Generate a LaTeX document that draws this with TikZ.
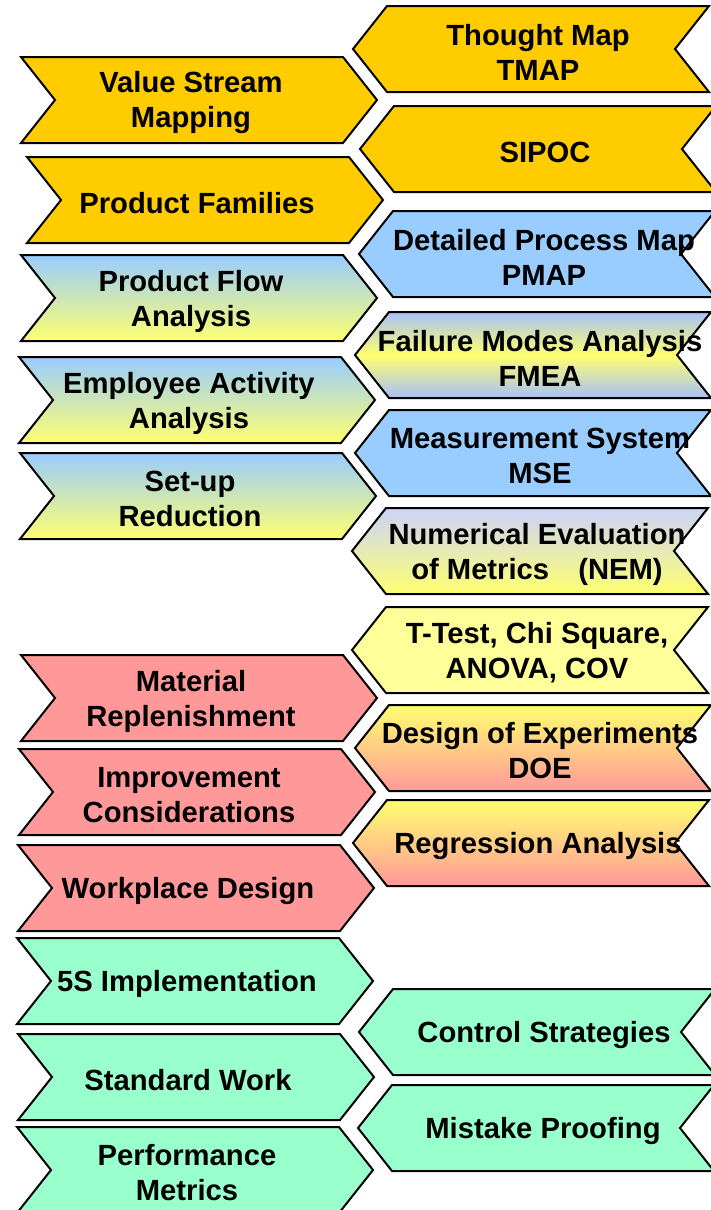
\documentclass[tikz,border=0pt]{standalone}
\usepackage{fontspec}
\setmainfont{Liberation Sans}
\usepackage{xcolor}
\definecolor{toolgold}{HTML}{FFCC00}
\definecolor{toolblue}{HTML}{99CCFF}
\definecolor{toolyellow}{HTML}{FFFF99}
\definecolor{brightyellow}{HTML}{FFFF70}
\definecolor{lavender}{RGB}{168,192,248}
\definecolor{palelavender}{RGB}{204,212,250}
\definecolor{toolpink}{HTML}{FF9999}
\definecolor{toolmint}{HTML}{99FFCC}

% chevron pointing right (left column): name, left x, top y, fill, text
\newcommand{\chevright}[5]{%
  \draw[chev, #4] (#2,#3) -- ++(322,0) -- ++(34,43) -- ++(-34,43) -- ++(-322,0) -- ++(34,-43) -- cycle;
  \node[lbl] (#1) at (#2+170,#3+46) {#5};}
% chevron pointing left (right column): name, tip x, top y, fill, text
\newcommand{\chevleft}[5]{%
  \draw[chev, #4] (#2,#3+43) -- ++(34,-43) -- ++(322,0) -- ++(-34,43) -- ++(34,43) -- ++(-322,0) -- cycle;
  \node[lbl] (#1) at (#2+185,#3+46) {#5};}

\begin{document}
\begin{tikzpicture}[
    x=0.5pt, y=-0.5pt,
    chev/.style={draw=black, line width=1pt, line join=miter},
    lbl/.style={font=\fontsize{14.6}{17.5}\selectfont\bfseries, align=center, inner sep=0pt},
    gold/.style={fill=toolgold},
    blue/.style={fill=toolblue},
    bluefade/.style={top color=toolblue, bottom color=brightyellow},
    lavband/.style={top color=lavender, bottom color=lavender, middle color=brightyellow},
    lavfade/.style={top color=palelavender, bottom color=brightyellow},
    yellow/.style={fill=toolyellow},
    warmfade/.style={top color=brightyellow, bottom color=toolpink},
    pink/.style={fill=toolpink},
    mint/.style={fill=toolmint}
]
\useasboundingbox (0,0) rectangle (711,1210);
\clip (0,0) rectangle (711,1210);

% Left column
\chevright{vsm}{21}{57}{gold}{Value Stream\\Mapping}
\chevright{pfam}{27}{157}{gold}{Product Families}
\chevright{pflow}{21}{255}{bluefade}{Product Flow\\Analysis}
\chevright{empl}{19}{357}{bluefade}{Employee Activity\\Analysis}
\chevright{setup}{20}{453}{bluefade}{Set-up\\Reduction}
\chevright{matrep}{21}{655}{pink}{Material\\Replenishment}
\chevright{improv}{19}{749}{pink}{Improvement\\Considerations}
\chevright{workpl}{18}{845}{pink}{Workplace Design}
\chevright{fives}{17}{938}{mint}{5S Implementation}
\chevright{stdwork}{18}{1034}{mint}{Standard Work}
\chevright{perfm}{17}{1127}{mint}{Performance\\Metrics}

% Right column
\chevleft{tmap}{353}{6}{gold}{Thought Map\\TMAP}
\chevleft{sipoc}{360}{106}{gold}{SIPOC}
\chevleft{pmap}{359}{211}{blue}{Detailed Process Map\\PMAP}
\chevleft{fmea}{355}{312}{lavband}{Failure Modes Analysis\\FMEA}
\chevleft{mse}{355}{410}{blue}{Measurement System\\MSE}
\chevleft{nem}{352}{508}{lavfade}{Numerical Evaluation\\of Metrics\hspace{1em}(NEM)}
\chevleft{ttest}{352}{607}{yellow}{T-Test, Chi Square,\\ANOVA, COV}
\chevleft{doe}{355}{705}{warmfade}{Design of Experiments\\DOE}
\chevleft{regr}{353}{800}{warmfade}{Regression Analysis}
\chevleft{ctrl}{359}{989}{mint}{Control Strategies}
\chevleft{mistake}{358}{1085}{mint}{Mistake Proofing}

\end{tikzpicture}
\end{document}
